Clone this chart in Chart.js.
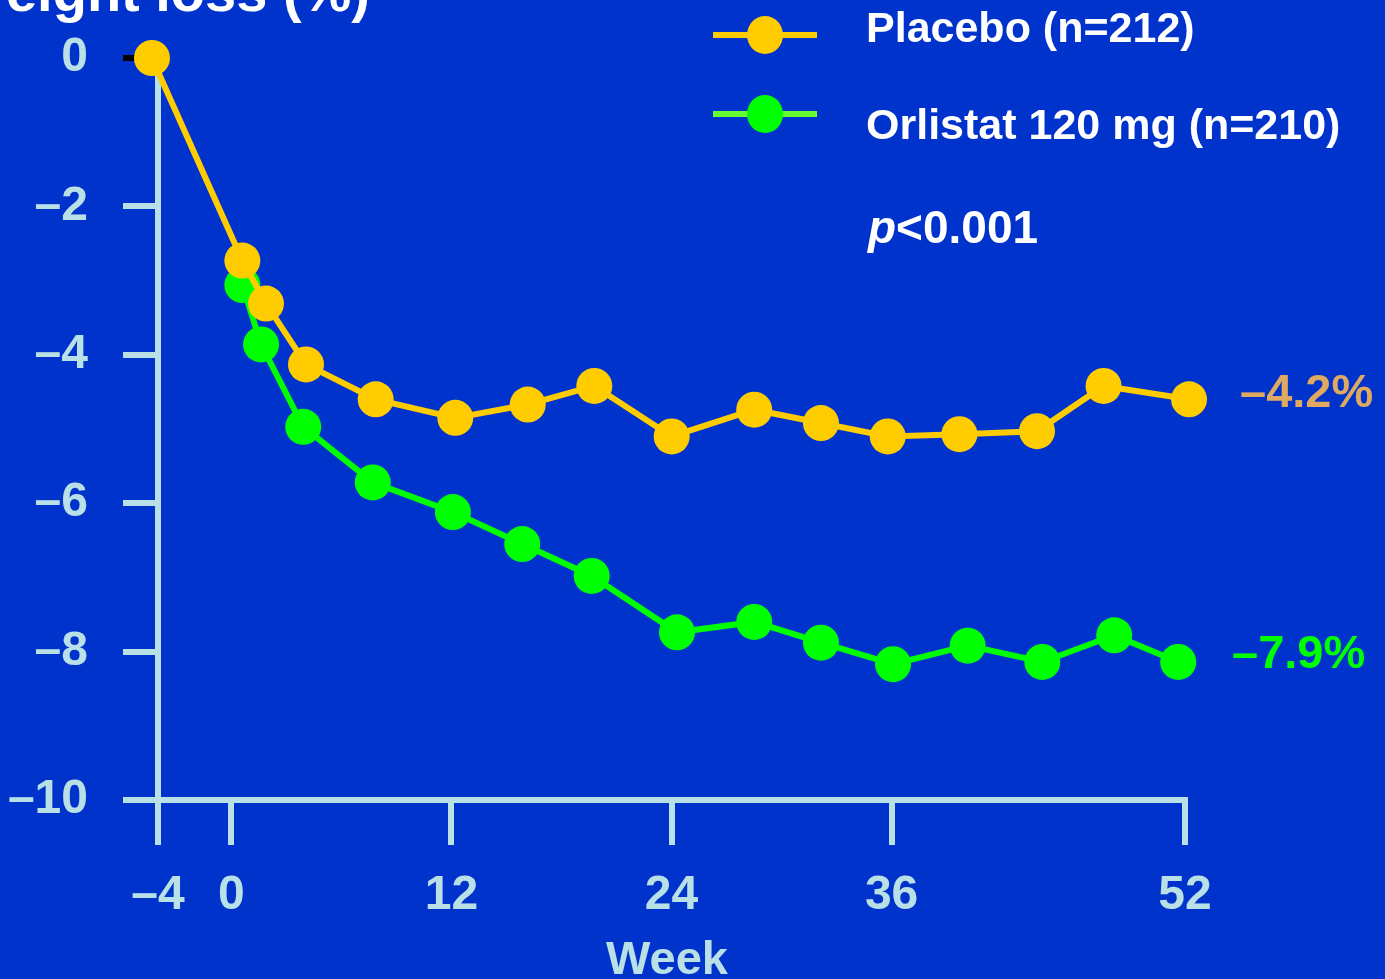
<!DOCTYPE html>
<html>
<head>
<meta charset="utf-8">
<title>Weight loss</title>
<script src="https://cdn.jsdelivr.net/npm/chart.js@4.4.0/dist/chart.umd.min.js"></script>
<style>
  html, body { margin: 0; padding: 0; background: #0033cc; overflow: hidden; }
  #wrap { width: 1385px; height: 979px; }
</style>
</head>
<body>
<div id="wrap"><canvas id="myChart" width="1385" height="979"></canvas></div>
<script>
// values (week, % change)
const placeboWeeks = [-4.33, 0.6, 1.89, 4.07, 7.87, 12.21, 16.16, 19.79, 24.01, 28.51, 32.15, 35.79, 39.7, 43.93, 47.56, 52.22];
const placeboLoss  = [0, -2.73, -3.31, -4.13, -4.6, -4.85, -4.67, -4.42, -5.1, -4.74, -4.92, -5.1, -5.07, -5.03, -4.42, -4.6];

const orlistatWeeks = [0.6, 1.62, 3.92, 7.71, 12.08, 15.86, 19.65, 24.3, 28.51, 32.15, 36.08, 40.15, 44.22, 48.14, 51.63];
const orlistatLoss  = [-3.06, -3.86, -4.97, -5.72, -6.12, -6.55, -6.98, -7.74, -7.6, -7.88, -8.17, -7.92, -8.14, -7.78, -8.14];

const xTicks = [-4, 0, 12, 24, 36, 52];
const seriesNames = ["Placebo (n=212)", "Orlistat 120 mg (n=210)"];
const endLabels = ["\u20134.2%", "\u20137.9%"];

const axisColor = "#b8e0e6";
const yellow = "#ffcc00";
const green = "#00ff00";
const fontFamily = "'Liberation Sans', Arial, sans-serif";

const dash = (v) => (v < 0 ? "\u2013" + Math.abs(v) : "" + v);

// texts and legend drawn on top of the chart
const extras = {
  id: "extras",
  afterDraw(chart) {
    const c = chart.ctx;
    c.save();
    c.fillStyle = "#ffffff";
    c.font = "bold 56px " + fontFamily;
    c.textAlign = "right";
    c.textBaseline = "alphabetic";
    c.fillText("Weight loss (%)", 370, 11);

    // legend
    const rows = [
      { y: 35, line: yellow, dot: yellow, text: seriesNames[0], ty: 42 },
      { y: 114, line: "#66ff33", dot: green, text: seriesNames[1], ty: 139 },
    ];
    rows.forEach((r) => {
      c.strokeStyle = r.line;
      c.lineWidth = 6;
      c.beginPath();
      c.moveTo(713, r.y);
      c.lineTo(817, r.y);
      c.stroke();
      c.fillStyle = r.dot;
      c.beginPath();
      c.ellipse(765, r.y, 18, 19, 0, 0, Math.PI * 2);
      c.fill();
      c.fillStyle = "#ffffff";
      c.textAlign = "left";
      c.font = "bold 43px " + fontFamily;
      c.fillText(r.text, 866, r.ty);
    });

    c.font = "italic bold 46px " + fontFamily;
    c.fillText("p", 868, 243);
    const pw = c.measureText("p").width;
    c.font = "bold 46px " + fontFamily;
    c.fillText("<0.001", 868 + pw, 243);

    c.font = "bold 47px " + fontFamily;
    c.fillStyle = "#deaa62";
    c.fillText(endLabels[0], 1240, 407);
    c.fillStyle = green;
    c.fillText(endLabels[1], 1232, 668);

    c.fillStyle = axisColor;
    c.font = "bold 47px " + fontFamily;
    c.textAlign = "center";
    c.fillText("Week", 667, 974);
    c.restore();
  },
};

const data = {
  datasets: [
    {
      label: seriesNames[0],
      data: placeboWeeks.map((w, i) => ({ x: w, y: placeboLoss[i] })),
      borderColor: yellow,
      backgroundColor: yellow,
      borderWidth: 6,
      pointRadius: 18,
      pointBorderWidth: 0,
      pointBackgroundColor: yellow,
      clip: false,
    },
    {
      label: seriesNames[1],
      data: orlistatWeeks.map((w, i) => ({ x: w, y: orlistatLoss[i] })),
      borderColor: green,
      backgroundColor: green,
      borderWidth: 6,
      pointRadius: 18,
      pointBorderWidth: 0,
      pointBackgroundColor: green,
      clip: false,
    },
  ],
};

const config = {
  type: "line",
  data: data,
  options: {
    responsive: false,
    animation: false,
    events: [],
    layout: { padding: { left: 0, top: 58, right: 200, bottom: 0 } },
    plugins: { legend: { display: false }, tooltip: { enabled: false } },
    scales: {
      x: {
        type: "linear",
        min: -4,
        max: 52,
        afterBuildTicks: (s) => { s.ticks = xTicks.map((v) => ({ value: v })); },
        afterFit: (s) => { s.height = 179; },
        ticks: {
          color: axisColor,
          font: { family: fontFamily, size: 48, weight: "bold" },
          padding: 22,
          maxRotation: 0,
          autoSkip: false,
          callback: dash,
        },
        grid: { drawOnChartArea: false, drawTicks: true, tickLength: 45, lineWidth: 6, color: axisColor },
        border: { display: true, color: axisColor, width: 6 },
      },
      y: {
        min: -10,
        max: 0,
        afterFit: (s) => { s.width = 158; s.paddingTop = 0; s.paddingBottom = 0; },
        ticks: {
          stepSize: 2,
          color: axisColor,
          font: { family: fontFamily, size: 48, weight: "bold" },
          padding: 35,
          callback: dash,
        },
        grid: {
          drawOnChartArea: false,
          drawTicks: true,
          tickLength: 35,
          lineWidth: 6,
          color: (ctx) => (ctx.tick && ctx.tick.value === 0 ? "#000000" : axisColor),
        },
        border: { display: true, color: axisColor, width: 6 },
      },
    },
  },
  plugins: [extras],
};

const grapharea = document.getElementById("myChart");
const myChart = new Chart(grapharea, config);
</script>
</body>
</html>
